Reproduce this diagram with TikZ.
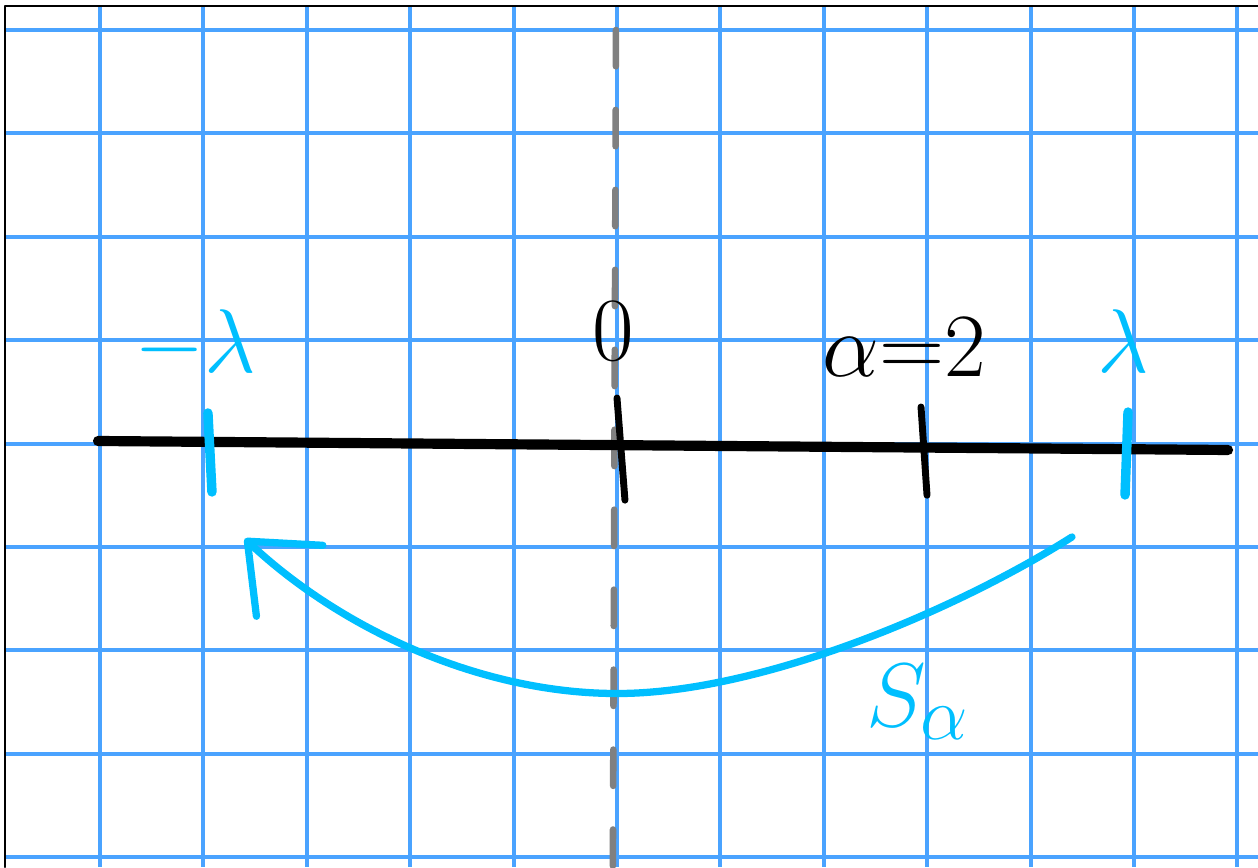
\documentclass[tikz,border=0pt]{standalone}
\usepackage{amsmath}
\usetikzlibrary{arrows.meta, positioning}

\definecolor{gridblue}{RGB}{74,163,255}
\definecolor{pen}{RGB}{0,191,255}
\definecolor{pencil}{RGB}{128,128,128}

\begin{document}
\begin{tikzpicture}[
    line cap=round, line join=round,
    grid/.style  = {draw=gridblue, line width=1.1pt, line cap=butt},
    frame/.style = {draw=black, line width=0.6pt},
    axis/.style  = {draw=black, line width=2.8pt},
    btick/.style = {draw=black, line width=1.9pt},
    ctick/.style = {draw=pen, line width=2.6pt},
    sym/.style   = {draw=pencil, line width=1.8pt, dash pattern=on 10pt off 12pt},
    flow/.style  = {draw=pen, line width=2pt,
                    -{Straight Barb[length=5.6mm, width=9.4mm, round]}},
    clab/.style  = {text=pen, inner sep=0pt},
    blab/.style  = {text=black, inner sep=0pt}
  ]
  \useasboundingbox (-5.967,-4.095) rectangle (6.199,4.290);

  % --- squared paper ---
  \foreach \x in {-5,...,6} \draw[grid] (\x,4.232) -- (\x,-4.095);
  \foreach \y in {-4,...,4} \draw[grid] (-5.919,\y) -- (6.199,\y);
  \draw[frame] (6.199,4.232) -- (-5.919,4.232) -- (-5.919,-4.095);

  % --- symmetry line through 0 ---
  \draw[sym] (-0.01,4.0) -- (-0.04,-4.095);

  % --- real line and its marks ---
  \draw[axis] (-5.019,0.025) -- (5.909,-0.062);
  \draw[btick] (0,0.441) -- (0.077,-0.547);
  \draw[btick] (2.940,0.354) -- (2.998,-0.499);
  \draw[ctick] (-3.956,0.296) -- (-3.917,-0.468);
  \draw[ctick] (4.942,0.305) -- (4.913,-0.497);

  % --- labels ---
  \node[clab, font=\fontsize{28}{30}\selectfont] (mlam) at (-4.081,0.954) {$-\lambda$};
  \node[blab, font=\fontsize{23}{25}\selectfont] (zero) at (-0.04,1.09) {$0$};
  \node[blab, font=\fontsize{23}{25}\selectfont] (alph) at (2.776,0.934) {$\alpha{=}2$};
  \node[clab, font=\fontsize{30}{32}\selectfont] (lam)  at (4.894,0.99) {$\lambda$};

  % --- the map S_alpha sends lambda to -lambda ---
  \coordinate (from) at (4.400,-0.903);
  \coordinate (low)  at (0,-2.417);
  \coordinate (to)   at (-3.60,-0.92);
  \draw[flow] (from) .. controls (3.3,-1.6) and (1.4,-2.417) .. (low)
                     .. controls (-1.3,-2.417) and (-2.65,-1.81) .. (to);
  \node[clab, font=\fontsize{28}{30}\selectfont] (smap) at (2.911,-2.499) {$S_\alpha$};

\end{tikzpicture}
\end{document}
